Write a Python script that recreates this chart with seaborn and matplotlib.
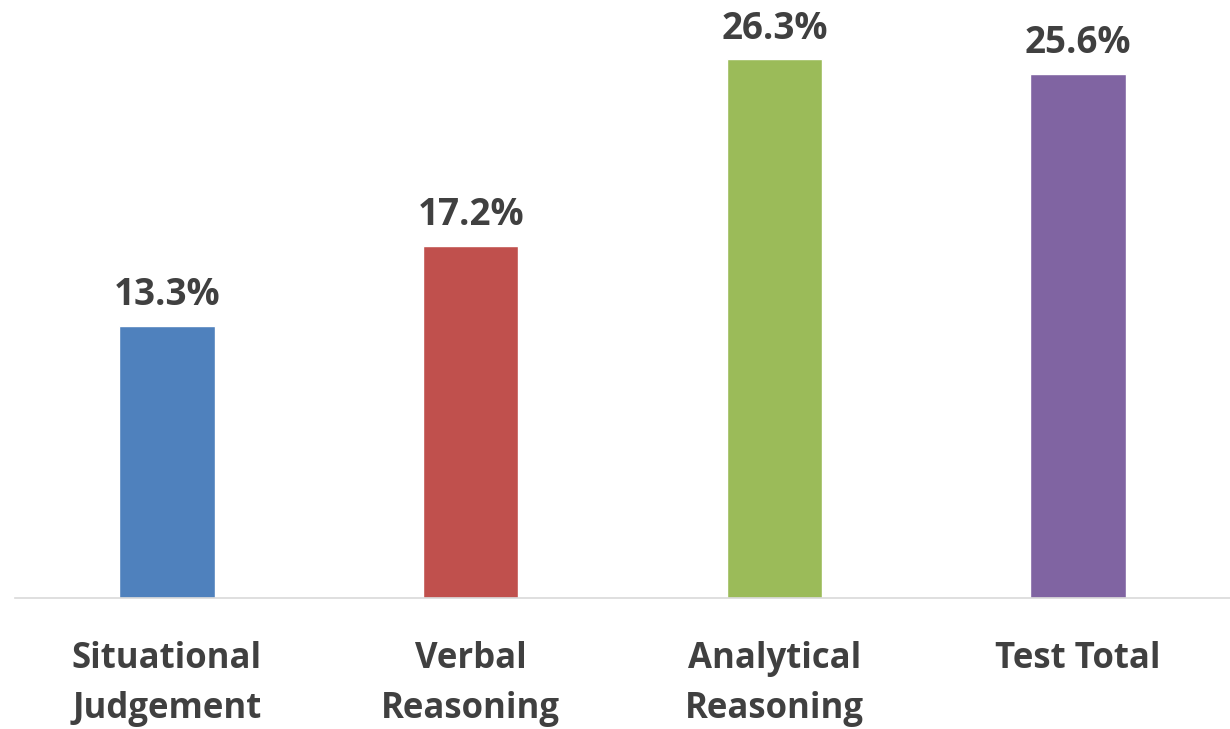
import matplotlib
matplotlib.use("Agg")
import matplotlib.pyplot as plt
import seaborn as sns
import pandas as pd

categories = ["Situational\nJudgement", "Verbal\nReasoning", "Analytical\nReasoning", "Test Total"]
values = [13.3, 17.2, 26.3, 25.6]
colors = ["#4F81BD", "#C0504D", "#9BBB59", "#8064A2"]

df = pd.DataFrame({"category": categories, "value": values})

sns.set_style("white")
plt.rcParams["font.family"] = ["Open Sans", "DejaVu Sans"]

fig = plt.figure(figsize=(12.3, 7.29), dpi=100)
ax = fig.add_axes([15 / 1230, 1 - 598 / 729, 1 - 15 / 1230, 598 / 729])

sns.barplot(data=df, x="category", y="value", hue="category", palette=colors,
            width=0.315, legend=False, ax=ax, saturation=1)

for i, v in enumerate(values):
    ax.text(i, v + 0.55, f"{v:.1f}%", ha="center", va="bottom",
            fontsize=26.5, fontweight="bold", color="#404040")

ax.set_xlim(-0.5, 3.5)
ax.set_ylim(0, 29.2)
ax.set_xlabel("")
ax.set_ylabel("")
ax.set_yticks([])
for s in ["top", "right", "left"]:
    ax.spines[s].set_visible(False)
ax.spines["bottom"].set_color("#D9D9D9")
ax.spines["bottom"].set_linewidth(1.2)
ax.tick_params(axis="x", length=0, pad=31, labelsize=25, labelcolor="#404040")
for lbl in ax.get_xticklabels():
    lbl.set_fontweight("bold")
    lbl.set_linespacing(1.5)

fig.savefig("out.png", dpi=100)
